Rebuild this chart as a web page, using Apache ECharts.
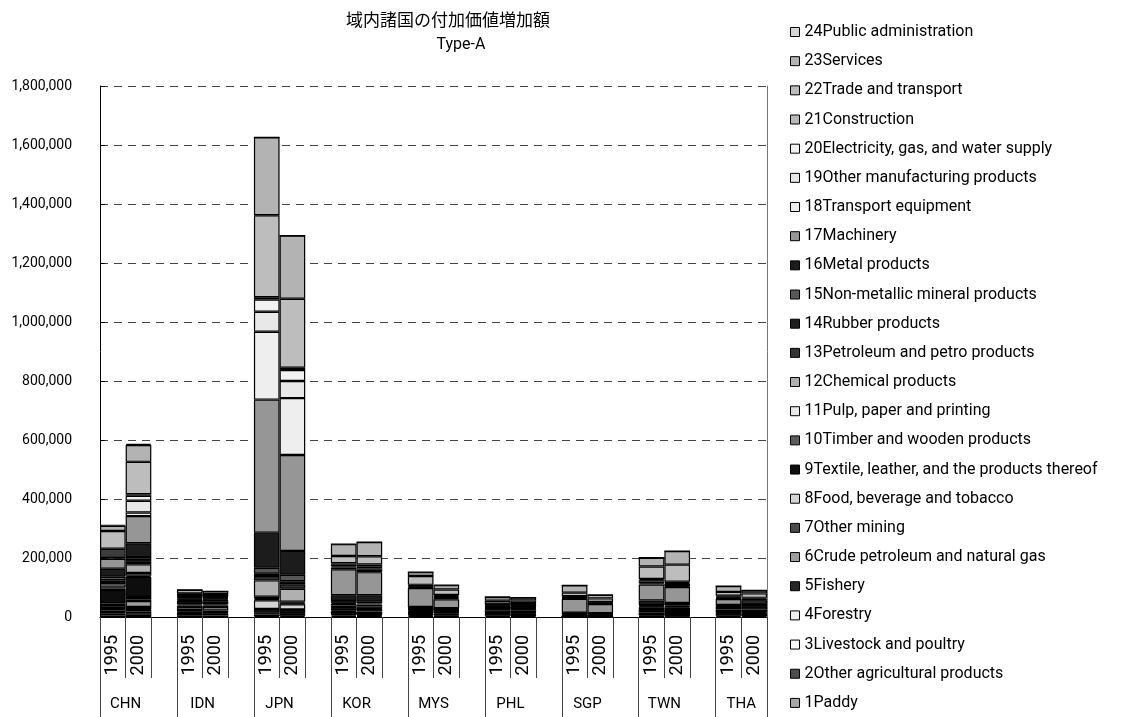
<!DOCTYPE html>
<html><head><meta charset="utf-8">
<script src="https://cdn.jsdelivr.net/npm/echarts@6/dist/echarts.min.js"></script>
<style>html,body{margin:0;padding:0;background:#fff}#c{width:1129px;height:717px}</style>
</head><body><div id="c"></div>
<script>
// Bars in order: CHN95, CHN00, IDN95, IDN00, JPN95, JPN00, KOR95, KOR00, MYS95, MYS00, PHL95, PHL00, SGP95, SGP00, TWN95, TWN00, THA95, THA00
const countries = ['CHN','IDN','JPN','KOR','MYS','PHL','SGP','TWN','THA'];
const years = ['1995','2000'];
const yTicks = [0,200000,400000,600000,800000,1000000,1200000,1400000,1600000,1800000];
const sectors = ['1Paddy','2Other agricultural products','3Livestock and poultry','4Forestry','5Fishery',
 '6Crude petroleum and natural gas','7Other mining','8Food, beverage and tobacco','9Textile, leather, and the products thereof',
 '10Timber and wooden products','11Pulp, paper and printing','12Chemical products','13Petroleum and petro products',
 '14Rubber products','15Non-metallic mineral products','16Metal products','17Machinery','18Transport equipment',
 '19Other manufacturing products','20Electricity, gas, and water supply','21Construction','22Trade and transport',
 '23Services','24Public administration'];
const colors = ['#a6a6a6','#4d4d4d','#f7f7f7','#efefef','#262626','#9e9e9e','#4a4a4a','#d4d4d4','#0d0d0d',
 '#5c5c5c','#e8e8e8','#b0b0b0','#333333','#1f1f1f','#575757','#1c1c1c','#969696','#eeeeee','#e8e8e8',
 '#f2f2f2','#b8b8b8','#bdbdbd','#b3b3b3','#d6d6d6'];
const v01 = [5000,8000,6000,5000,3000,4000,4000,3000,3000,2000,4000,3000,0,0,2000,1500,4000,3000];
const v02 = [6000,10000,8000,7000,5000,8000,4000,3000,4000,4000,6000,5000,500,500,4000,3000,6000,8000];
const v03 = [4000,6000,2000,2000,5000,2000,2000,2000,2000,2000,2000,2000,500,500,2000,2000,2000,2000];
const v04 = [1500,2000,2000,2000,2000,1000,1000,1000,1000,1000,1000,1000,0,0,500,500,1000,1000];
const v05 = [6000,8000,6000,6000,10000,9000,5000,5000,3000,2000,4000,4000,500,500,3000,3000,4000,4000];
const v06 = [8000,20000,10000,12000,500,500,0,0,3000,4000,0,1000,0,0,0,0,1000,1000];
const v07 = [10000,6000,5000,5000,1500,1500,1000,1000,1000,1000,1000,1000,500,500,500,500,1000,1000];
const v08 = [6000,8000,4000,4000,30000,17000,4000,4000,3000,2000,5000,6000,2000,1500,3000,3000,6000,6000];
const v09 = [45000,68000,12000,10000,4000,3000,9000,9000,3000,2000,3000,3000,1000,500,8000,7000,6000,10000];
const v10 = [5000,4000,3000,3000,3000,2000,1000,1000,2000,1000,1000,1000,500,500,1000,1000,1000,1000];
const v11 = [4000,9000,1000,1000,5000,4000,2000,2000,1000,1000,1000,1000,1500,1500,2000,2000,1000,1000];
const v12 = [10000,30000,3000,3000,55000,44000,6000,5000,2000,2000,2000,2000,3000,3000,7000,8000,2000,2000];
const v13 = [8000,8000,3000,3000,15000,15000,5000,6000,1000,1000,2000,2000,2000,2000,3000,3000,2000,2000];
const v14 = [6000,6000,2000,2000,8000,10000,4000,4000,2000,2000,1000,1000,500,500,2000,2000,1000,1000];
const v15 = [12000,10000,2000,2000,20000,22000,6000,6000,1000,1000,1000,1000,500,500,3000,3000,1000,1000];
const v16 = [27000,47000,2000,2000,119000,81000,20000,22000,2000,2000,2000,2000,1500,1000,15000,8000,2000,2000];
const v17 = [34000,92000,2000,2000,451000,325000,88000,78000,64000,30000,4000,6000,47000,31000,54000,54000,20000,10000];
const v18 = [8000,12000,1000,1000,230000,193000,6000,8000,3000,4000,1000,1000,2000,1500,4000,3000,2000,2000];
const v19 = [10000,40000,1000,1000,68000,58000,4000,5000,2000,3000,1000,1000,2000,1500,6000,8000,3000,2000];
const v20 = [10000,17000,1000,1000,41000,37000,5000,7000,3000,4000,2000,2000,2000,2000,5000,3000,3000,2000];
const v21 = [6000,5000,1000,1000,8000,8000,5000,6000,3000,4000,1000,1000,3000,2000,4000,4000,3000,3000];
const v22 = [60000,110000,3000,2000,278000,234000,25000,28000,30000,18000,10000,9000,12000,12000,42000,58000,13000,15000];
const v23 = [18000,57000,12000,10000,264000,214000,40000,48000,13000,15000,13000,10000,25000,12000,30000,46000,20000,10000];
const v24 = [3000,4000,0,0,0,0,0,0,0,0,0,0,0,0,0,0,0,0];
const values = [v01,v02,v03,v04,v05,v06,v07,v08,v09,v10,v11,v12,v13,v14,v15,v16,v17,v18,v19,v20,v21,v22,v23,v24];

// slot layout: each country gets its years plus a blank slot (except the last)
const slotLabels = [];
countries.forEach((c,i)=>{ years.forEach(y=>slotLabels.push(y)); if(i<countries.length-1) slotLabels.push(''); });
function toSlots(arr){
  const out=[]; let k=0;
  countries.forEach((c,i)=>{ years.forEach(()=>out.push(arr[k++])); if(i<countries.length-1) out.push('-'); });
  return out;
}
// country row: half-slot positions
const nHalf = slotLabels.length*2;
const countryLabels = new Array(nHalf+1).fill('');
const boundaries = new Set();
let pos = 0;
countries.forEach((c,i)=>{
  const slots = years.length + (i<countries.length-1?1:0);
  boundaries.add(pos*2);
  countryLabels[pos*2 + years.length] = c;
  pos += slots;
});
boundaries.add(nHalf);

const chart = echarts.init(document.getElementById('c'));
const FONT = 'Roboto';
chart.setOption({
  animation:false,
  backgroundColor:'#fff',
  graphic:[
    {type:'text', x:448, y:20, style:{text:'域内諸国の付加価値増加額', align:'center', verticalAlign:'middle', font:'17px "Noto Sans CJK JP"', fill:'#000'}},
    {type:'text', x:461, y:45, style:{text:'Type-A', align:'center', verticalAlign:'middle', font:'16px Roboto', fill:'#000'}}
  ],
  grid:{left:100, right:362, top:86, bottom:100},
  legend:{orient:'vertical', left:790, top:23, itemWidth:9, itemHeight:9, itemGap:11.17, icon:'rect', padding:0,
    selectedMode:false, data:sectors.slice().reverse(),
    textStyle:{fontSize:16, fontFamily:FONT, color:'#000', lineHeight:18},
    itemStyle:{borderColor:'#000', borderWidth:1}},
  xAxis:[
    {type:'category', data:slotLabels, position:'bottom', boundaryGap:true,
     axisLine:{lineStyle:{color:'#000', width:1}},
     axisTick:{show:true, interval:0, length:61, lineStyle:{color:'#444'}},
     axisLabel:{interval:0, rotate:90, margin:18, fontSize:18, fontFamily:FONT, color:'#000'},
     splitLine:{show:false}},
    {type:'category', data:countryLabels, position:'bottom', boundaryGap:false,
     axisLine:{show:false},
     axisTick:{show:true, interval:(i)=>boundaries.has(i), length:100, lineStyle:{color:'#444'}},
     axisLabel:{interval:0, margin:80, fontSize:15, fontFamily:FONT, color:'#000'},
     splitLine:{show:false}}
  ],
  yAxis:[
    {type:'value', min:yTicks[0], max:yTicks[yTicks.length-1], interval:yTicks[1]-yTicks[0],
     axisLine:{show:true, lineStyle:{color:'#000', width:1}},
     axisTick:{show:true, inside:true, length:5, lineStyle:{color:'#000'}},
     axisLabel:{margin:28, fontSize:14, fontFamily:FONT, color:'#000', formatter:v=>v.toLocaleString('en-US')},
     splitLine:{show:true, lineStyle:{type:[8,6], color:'#444', width:1}}},
    {type:'value', position:'right', min:yTicks[0], max:yTicks[yTicks.length-1], interval:yTicks[1]-yTicks[0],
     axisLine:{show:true, lineStyle:{color:'#777', width:1}},
     axisTick:{show:false}, axisLabel:{show:false}, splitLine:{show:false}}
  ],
  series: sectors.map((name,k)=>({
    name, type:'bar', stack:'total', xAxisIndex:0, yAxisIndex:0,
    barCategoryGap:'0%', barGap:'0%',
    data: toSlots(values[k]),
    itemStyle:{color:colors[k], borderColor:'#000', borderWidth:1.2},
    emphasis:{disabled:true}
  }))
});
</script></body></html>
